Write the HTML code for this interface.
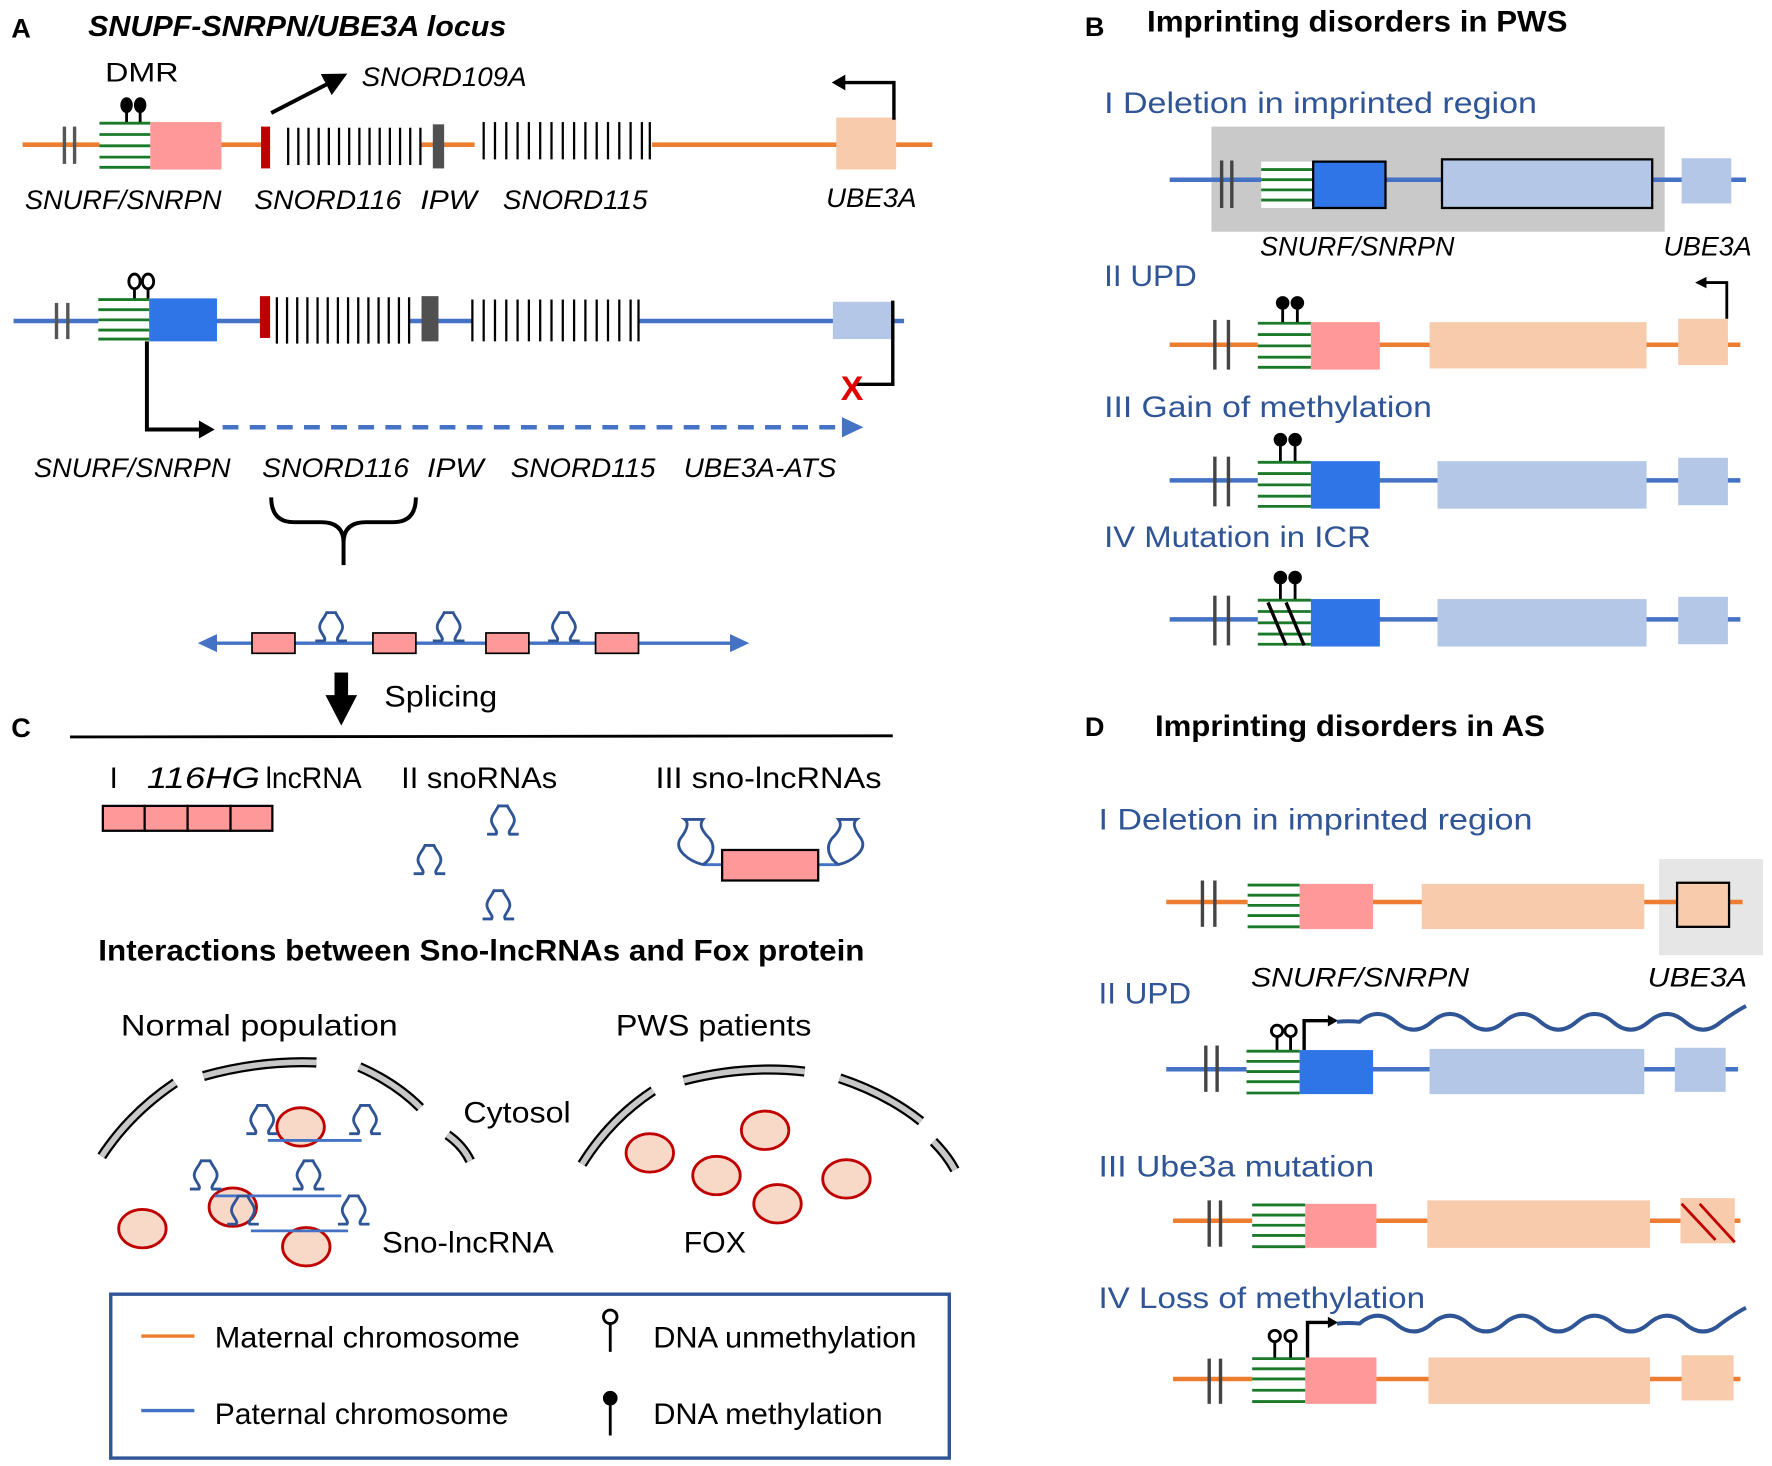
<!DOCTYPE html>
<html><head><meta charset="utf-8"><style>
html,body{margin:0;padding:0;background:#fff}
svg{display:block}
text{font-family:"Liberation Sans",sans-serif}
.it{font-style:italic}
.b{font-weight:bold}
.bl{fill:#2F5597}
</style></head><body>
<svg width="1772" height="1466" viewBox="0 0 1568 1297" preserveAspectRatio="none" xmlns="http://www.w3.org/2000/svg">
<defs>
<symbol id="hp" overflow="visible"><path d="M-14,0 L-6,0 C-4,-3 -9,-6 -10,-11 C-11,-16 -6,-20 -4,-25 L4,-25 C6,-20 11,-16 10,-11 C9,-6 4,-3 6,0 L14,0" fill="none" stroke="#2F5597" stroke-width="2.5"/></symbol>
<marker id="ah" markerWidth="6" markerHeight="6" refX="3" refY="3" orient="auto" markerUnits="strokeWidth"><path d="M0,0 L6,3 L0,6 z" fill="#000"/></marker>
</defs>

<!-- Panel A -->
<text x="10" y="33" font-size="24" class="b">A</text>
<text x="78" y="32" font-size="25" class="b it" textLength="370" lengthAdjust="spacingAndGlyphs">SNUPF-SNRPN/UBE3A locus</text>
<text x="93" y="72" font-size="24" textLength="65" lengthAdjust="spacingAndGlyphs">DMR</text>
<text x="320" y="76" font-size="24" class="it" textLength="146" lengthAdjust="spacingAndGlyphs">SNORD109A</text>
<line x1="240" y1="100" x2="298" y2="70" stroke="#000" stroke-width="3.5" marker-end="url(#ah)"/>
<!-- row1 -->
<line x1="20" y1="128" x2="232" y2="128" stroke="#ED7D31" stroke-width="4"/>
<line x1="372" y1="128" x2="420" y2="128" stroke="#ED7D31" stroke-width="4"/>
<line x1="577" y1="128" x2="825" y2="128" stroke="#ED7D31" stroke-width="4"/>
<line x1="57" y1="112" x2="57" y2="145" stroke="#555" stroke-width="3"/><line x1="66" y1="112" x2="66" y2="145" stroke="#555" stroke-width="3"/>
<rect x="88" y="108" width="45" height="40" fill="#fff"/>
<g stroke="#1a7a2a" stroke-width="2.5"><line x1="88" y1="109" x2="133" y2="109"/><line x1="88" y1="119" x2="133" y2="119"/><line x1="88" y1="129" x2="133" y2="129"/><line x1="88" y1="139" x2="133" y2="139"/><line x1="88" y1="148" x2="133" y2="148"/></g>
<rect x="133" y="108" width="63" height="42" fill="#FF9999"/>
<g stroke="#000" stroke-width="2.5"><line x1="112" y1="95" x2="112" y2="108"/><line x1="124" y1="95" x2="124" y2="108"/></g>
<ellipse cx="112" cy="93" rx="5.5" ry="7" fill="#000"/><ellipse cx="124" cy="93" rx="5.5" ry="7" fill="#000"/>
<rect x="231" y="112" width="8" height="37" fill="#C00000"/>
<g stroke="#000" stroke-width="2">
<line x1="255" y1="113" x2="255" y2="146"/><line x1="264" y1="113" x2="264" y2="146"/><line x1="273" y1="113" x2="273" y2="146"/><line x1="282" y1="113" x2="282" y2="146"/><line x1="291" y1="113" x2="291" y2="146"/><line x1="300" y1="113" x2="300" y2="146"/><line x1="309" y1="113" x2="309" y2="146"/><line x1="318" y1="113" x2="318" y2="146"/><line x1="327" y1="113" x2="327" y2="146"/><line x1="336" y1="113" x2="336" y2="146"/><line x1="345" y1="113" x2="345" y2="146"/><line x1="354" y1="113" x2="354" y2="146"/><line x1="363" y1="113" x2="363" y2="146"/><line x1="372" y1="113" x2="372" y2="146"/>
<line x1="428" y1="108" x2="428" y2="141"/><line x1="438" y1="108" x2="438" y2="141"/><line x1="448" y1="108" x2="448" y2="141"/><line x1="458" y1="108" x2="458" y2="141"/><line x1="468" y1="108" x2="468" y2="141"/><line x1="478" y1="108" x2="478" y2="141"/><line x1="488" y1="108" x2="488" y2="141"/><line x1="498" y1="108" x2="498" y2="141"/><line x1="508" y1="108" x2="508" y2="141"/><line x1="518" y1="108" x2="518" y2="141"/><line x1="528" y1="108" x2="528" y2="141"/><line x1="538" y1="108" x2="538" y2="141"/><line x1="548" y1="108" x2="548" y2="141"/><line x1="558" y1="108" x2="558" y2="141"/><line x1="568" y1="108" x2="568" y2="141"/><line x1="575" y1="108" x2="575" y2="141"/>
</g>
<rect x="383" y="110" width="10" height="39" fill="#505050"/>
<rect x="740" y="104" width="53" height="46" fill="#F8CBAD"/>
<polyline points="791,106 791,73 746,73" fill="none" stroke="#000" stroke-width="3"/>
<path d="M736,73 L748,66 L748,80 z" fill="#000"/>
<g font-size="24" class="it">
<text x="22" y="185" textLength="174" lengthAdjust="spacingAndGlyphs">SNURF/SNRPN</text>
<text x="225" y="185" textLength="130" lengthAdjust="spacingAndGlyphs">SNORD116</text>
<text x="372" y="185" textLength="50" lengthAdjust="spacingAndGlyphs">IPW</text>
<text x="445" y="185" textLength="128" lengthAdjust="spacingAndGlyphs">SNORD115</text>
<text x="731" y="183" textLength="80" lengthAdjust="spacingAndGlyphs">UBE3A</text>
</g>
<!-- row2 -->
<line x1="12" y1="284" x2="230" y2="284" stroke="#4472C4" stroke-width="4"/>
<line x1="362" y1="284" x2="418" y2="284" stroke="#4472C4" stroke-width="4"/>
<line x1="565" y1="284" x2="800" y2="284" stroke="#4472C4" stroke-width="4"/>
<line x1="50" y1="268" x2="50" y2="300" stroke="#555" stroke-width="3"/><line x1="60" y1="268" x2="60" y2="300" stroke="#555" stroke-width="3"/>
<rect x="87" y="264" width="45" height="36" fill="#fff"/>
<g stroke="#1a7a2a" stroke-width="2.5"><line x1="87" y1="265" x2="132" y2="265"/><line x1="87" y1="274" x2="132" y2="274"/><line x1="87" y1="283" x2="132" y2="283"/><line x1="87" y1="292" x2="132" y2="292"/><line x1="87" y1="300" x2="132" y2="300"/></g>
<rect x="132" y="264" width="60" height="38" fill="#2F75E8"/>
<g stroke="#000" stroke-width="2.5"><line x1="119" y1="255" x2="119" y2="264"/><line x1="131" y1="255" x2="131" y2="264"/></g>
<ellipse cx="119" cy="249" rx="5" ry="6.5" fill="#fff" stroke="#000" stroke-width="2.5"/><ellipse cx="131" cy="249" rx="5" ry="6.5" fill="#fff" stroke="#000" stroke-width="2.5"/>
<rect x="230" y="262" width="9" height="37" fill="#C00000"/>
<g stroke="#000" stroke-width="2">
<line x1="245" y1="263" x2="245" y2="304"/><line x1="254" y1="263" x2="254" y2="304"/><line x1="263" y1="263" x2="263" y2="304"/><line x1="272" y1="263" x2="272" y2="304"/><line x1="281" y1="263" x2="281" y2="304"/><line x1="290" y1="263" x2="290" y2="304"/><line x1="299" y1="263" x2="299" y2="304"/><line x1="308" y1="263" x2="308" y2="304"/><line x1="317" y1="263" x2="317" y2="304"/><line x1="326" y1="263" x2="326" y2="304"/><line x1="335" y1="263" x2="335" y2="304"/><line x1="344" y1="263" x2="344" y2="304"/><line x1="353" y1="263" x2="353" y2="304"/><line x1="362" y1="263" x2="362" y2="304"/>
<line x1="418" y1="265" x2="418" y2="302"/><line x1="428" y1="265" x2="428" y2="302"/><line x1="438" y1="265" x2="438" y2="302"/><line x1="448" y1="265" x2="448" y2="302"/><line x1="458" y1="265" x2="458" y2="302"/><line x1="468" y1="265" x2="468" y2="302"/><line x1="478" y1="265" x2="478" y2="302"/><line x1="488" y1="265" x2="488" y2="302"/><line x1="498" y1="265" x2="498" y2="302"/><line x1="508" y1="265" x2="508" y2="302"/><line x1="518" y1="265" x2="518" y2="302"/><line x1="528" y1="265" x2="528" y2="302"/><line x1="538" y1="265" x2="538" y2="302"/><line x1="548" y1="265" x2="548" y2="302"/><line x1="558" y1="265" x2="558" y2="302"/><line x1="565" y1="265" x2="565" y2="302"/>
</g>
<rect x="373" y="262" width="15" height="40" fill="#505050"/>
<rect x="737" y="267" width="52" height="33" fill="#B4C7E7"/>
<polyline points="790,266 790,340 757,340" fill="none" stroke="#000" stroke-width="3"/>
<text x="744" y="354" font-size="30" fill="#E00000" font-weight="bold">X</text>
<polyline points="130,302 130,380 178,380" fill="none" stroke="#000" stroke-width="3.5"/>
<path d="M190,380 L176,372 L176,388 z" fill="#000"/>
<line x1="197" y1="378" x2="742" y2="378" stroke="#4472C4" stroke-width="4" stroke-dasharray="14,10"/>
<path d="M764,378 L745,369 L745,387 z" fill="#4472C4"/>
<g font-size="24" class="it">
<text x="30" y="422" textLength="174" lengthAdjust="spacingAndGlyphs">SNURF/SNRPN</text>
<text x="232" y="422" textLength="130" lengthAdjust="spacingAndGlyphs">SNORD116</text>
<text x="378" y="422" textLength="50" lengthAdjust="spacingAndGlyphs">IPW</text>
<text x="452" y="422" textLength="128" lengthAdjust="spacingAndGlyphs">SNORD115</text>
<text x="605" y="422" textLength="135" lengthAdjust="spacingAndGlyphs">UBE3A-ATS</text>
</g>
<path d="M240,440 Q240,462 260,462 L284,462 Q304,462 304,480 L304,500 M368,440 Q368,462 348,462 L324,462 Q304,462 304,480" fill="none" stroke="#000" stroke-width="3.5"/>
<!-- splicing row -->
<line x1="188" y1="569" x2="650" y2="569" stroke="#4472C4" stroke-width="3"/>
<path d="M175,569 L192,561 L192,577 z M663,569 L646,561 L646,577 z" fill="#4472C4"/>
<g fill="#FF9999" stroke="#000" stroke-width="1.5"><rect x="223" y="560" width="38" height="18"/><rect x="330" y="560" width="38" height="18"/><rect x="430" y="560" width="38" height="18"/><rect x="527" y="560" width="38" height="18"/></g>
<use href="#hp" x="293" y="567"/><use href="#hp" x="397" y="567"/><use href="#hp" x="499" y="567"/>
<rect x="296" y="595" width="12" height="22" fill="#000"/><path d="M288,615 L316,615 L302,642 z" fill="#000"/>
<text x="340" y="625" font-size="26" textLength="100" lengthAdjust="spacingAndGlyphs">Splicing</text>

<!-- Panel C -->
<text x="10" y="652" font-size="24" class="b">C</text>
<line x1="62" y1="652" x2="790" y2="651" stroke="#000" stroke-width="2.5"/>
<g font-size="26">
<text x="97" y="697">I</text>
<text x="130" y="697" class="it" textLength="100" lengthAdjust="spacingAndGlyphs">116HG</text>
<text x="235" y="697" textLength="85" lengthAdjust="spacingAndGlyphs">lncRNA</text>
<text x="355" y="697" textLength="138" lengthAdjust="spacingAndGlyphs">II snoRNAs</text>
<text x="580" y="697" textLength="200" lengthAdjust="spacingAndGlyphs">III  sno-lncRNAs</text>
</g>
<g fill="#FF9999" stroke="#000" stroke-width="2"><rect x="91" y="713" width="37" height="22"/><rect x="128" y="713" width="38" height="22"/><rect x="166" y="713" width="38" height="22"/><rect x="204" y="713" width="37" height="22"/></g>
<use href="#hp" x="445" y="738"/><use href="#hp" x="380" y="773"/><use href="#hp" x="441" y="813"/>
<line x1="622" y1="765" x2="640" y2="765" stroke="#4472C4" stroke-width="2.5"/><line x1="724" y1="765" x2="742" y2="765" stroke="#4472C4" stroke-width="2.5"/>
<path d="M622,765 C610,762 596,752 602,742 C608,734 610,728 606,725 L622,725 C618,730 622,736 628,742 C634,750 630,760 622,765" fill="none" stroke="#2F5597" stroke-width="2.5"/>
<path d="M742,765 C754,762 768,752 762,742 C756,734 754,728 758,725 L742,725 C746,730 742,736 736,742 C730,750 734,760 742,765" fill="none" stroke="#2F5597" stroke-width="2.5"/>
<rect x="639" y="752" width="85" height="27" fill="#FF9999" stroke="#000" stroke-width="2"/>
<text x="87" y="850" font-size="26" class="b" textLength="678" lengthAdjust="spacingAndGlyphs">Interactions between Sno-lncRNAs and Fox protein</text>
<text x="107" y="916" font-size="26" textLength="245" lengthAdjust="spacingAndGlyphs">Normal population</text>
<text x="545" y="916" font-size="26" textLength="173" lengthAdjust="spacingAndGlyphs">PWS patients</text>
<!-- membranes -->
<g fill="none" stroke-linecap="butt">
<g stroke="#000" stroke-width="9"><path d="M90,1023 Q115,985 155,958"/><path d="M180,952 Q230,938 280,940"/><path d="M318,944 Q350,958 372,980"/><path d="M396,1004 Q410,1014 416,1027"/>
<path d="M515,1030 Q540,990 578,965"/><path d="M605,956 Q660,942 712,948"/><path d="M743,954 Q785,968 815,992"/><path d="M826,1010 Q838,1022 845,1035"/></g>
<g stroke="#C8C8C8" stroke-width="5"><path d="M90,1023 Q115,985 155,958"/><path d="M180,952 Q230,938 280,940"/><path d="M318,944 Q350,958 372,980"/><path d="M396,1004 Q410,1014 416,1027"/>
<path d="M515,1030 Q540,990 578,965"/><path d="M605,956 Q660,942 712,948"/><path d="M743,954 Q785,968 815,992"/><path d="M826,1010 Q838,1022 845,1035"/></g>
</g>
<text x="410" y="993" font-size="26" textLength="95" lengthAdjust="spacingAndGlyphs">Cytosol</text>
<text x="338" y="1108" font-size="26" textLength="152" lengthAdjust="spacingAndGlyphs">Sno-lncRNA</text>
<text x="605" y="1108" font-size="26" textLength="55" lengthAdjust="spacingAndGlyphs">FOX</text>
<g fill="#F8D9C8" stroke="#C00000" stroke-width="2.5">
<ellipse cx="266" cy="997" rx="21" ry="17"/><ellipse cx="126" cy="1087" rx="21" ry="17"/><ellipse cx="206" cy="1068" rx="21" ry="17"/><ellipse cx="271" cy="1103" rx="21" ry="17"/>
<ellipse cx="575" cy="1020" rx="21" ry="17"/><ellipse cx="677" cy="1000" rx="21" ry="17"/><ellipse cx="634" cy="1040" rx="21" ry="17"/><ellipse cx="688" cy="1065" rx="21" ry="17"/><ellipse cx="749" cy="1043" rx="21" ry="17"/>
</g>
<g stroke="#4472C4" stroke-width="2.5"><line x1="237" y1="1009" x2="320" y2="1009"/><line x1="190" y1="1058" x2="302" y2="1058"/><line x1="222" y1="1089" x2="308" y2="1089"/></g>
<use href="#hp" x="232" y="1003"/><use href="#hp" x="323" y="1003"/><use href="#hp" x="182" y="1052"/><use href="#hp" x="273" y="1052"/><use href="#hp" x="215" y="1083"/><use href="#hp" x="313" y="1083"/>
<!-- legend -->
<rect x="98" y="1145" width="742" height="145" fill="none" stroke="#2F5597" stroke-width="3"/>
<line x1="125" y1="1182" x2="172" y2="1182" stroke="#ED7D31" stroke-width="3"/>
<line x1="125" y1="1248" x2="172" y2="1248" stroke="#4472C4" stroke-width="3"/>
<g font-size="26">
<text x="190" y="1192" textLength="270" lengthAdjust="spacingAndGlyphs">Maternal chromosome</text>
<text x="190" y="1260" textLength="260" lengthAdjust="spacingAndGlyphs">Paternal chromosome</text>
<text x="578" y="1192" textLength="233" lengthAdjust="spacingAndGlyphs">DNA unmethylation</text>
<text x="578" y="1260" textLength="203" lengthAdjust="spacingAndGlyphs">DNA methylation</text>
</g>
<line x1="540" y1="1170" x2="540" y2="1196" stroke="#000" stroke-width="2.5"/><circle cx="540" cy="1165" r="6" fill="#fff" stroke="#000" stroke-width="2.5"/>
<line x1="540" y1="1238" x2="540" y2="1270" stroke="#000" stroke-width="2.5"/><circle cx="540" cy="1237" r="6.5" fill="#000"/>

<!-- Panel B -->
<text x="960" y="32" font-size="24" class="b">B</text>
<text x="1015" y="28" font-size="26" class="b" textLength="372" lengthAdjust="spacingAndGlyphs">Imprinting disorders in PWS</text>
<g font-size="26" class="bl">
<text x="977" y="100" textLength="383" lengthAdjust="spacingAndGlyphs">I Deletion in imprinted region</text>
<text x="977" y="253" textLength="82" lengthAdjust="spacingAndGlyphs">II UPD</text>
<text x="977" y="369" textLength="290" lengthAdjust="spacingAndGlyphs">III Gain of methylation</text>
<text x="977" y="484" textLength="236" lengthAdjust="spacingAndGlyphs">IV Mutation in ICR</text>
</g>
<rect x="1072" y="112" width="401" height="93" fill="#C9C9C9"/>
<line x1="1035" y1="159" x2="1545" y2="159" stroke="#4472C4" stroke-width="4"/>
<line x1="1081" y1="142" x2="1081" y2="184" stroke="#444" stroke-width="3"/><line x1="1090" y1="142" x2="1090" y2="184" stroke="#444" stroke-width="3"/>
<rect x="1116" y="143" width="46" height="41" fill="#fff"/>
<g stroke="#1a7a2a" stroke-width="2.5"><line x1="1116" y1="150" x2="1162" y2="150"/><line x1="1116" y1="159" x2="1162" y2="159"/><line x1="1116" y1="168" x2="1162" y2="168"/><line x1="1116" y1="177" x2="1162" y2="177"/></g>
<rect x="1162" y="143" width="64" height="41" fill="#2F75E8" stroke="#000" stroke-width="2"/>
<rect x="1276" y="141" width="186" height="43" fill="#B4C7E7" stroke="#000" stroke-width="2"/>
<rect x="1488" y="140" width="44" height="40" fill="#B4C7E7"/>
<text x="1115" y="226" font-size="24" class="it" textLength="172" lengthAdjust="spacingAndGlyphs">SNURF/SNRPN</text>
<text x="1472" y="226" font-size="24" class="it" textLength="78" lengthAdjust="spacingAndGlyphs">UBE3A</text>
<!-- B II -->
<line x1="1035" y1="305" x2="1540" y2="305" stroke="#ED7D31" stroke-width="4"/>
<line x1="1075" y1="283" x2="1075" y2="327" stroke="#444" stroke-width="3"/><line x1="1087" y1="283" x2="1087" y2="327" stroke="#444" stroke-width="3"/>
<rect x="1113" y="285" width="47" height="41" fill="#fff"/>
<g stroke="#1a7a2a" stroke-width="2.5"><line x1="1113" y1="286" x2="1160" y2="286"/><line x1="1113" y1="296" x2="1160" y2="296"/><line x1="1113" y1="306" x2="1160" y2="306"/><line x1="1113" y1="316" x2="1160" y2="316"/><line x1="1113" y1="325" x2="1160" y2="325"/></g>
<rect x="1160" y="285" width="61" height="42" fill="#FF9999"/>
<rect x="1265" y="285" width="192" height="41" fill="#F8CBAD"/>
<rect x="1485" y="282" width="44" height="41" fill="#F8CBAD"/>
<polyline points="1528,282 1528,250 1508,250" fill="none" stroke="#000" stroke-width="2.5"/><path d="M1500,250 L1510,245 L1510,255 z" fill="#000"/>
<g stroke="#000" stroke-width="2.5"><line x1="1135" y1="270" x2="1135" y2="285"/><line x1="1148" y1="270" x2="1148" y2="285"/></g>
<circle cx="1135" cy="268" r="6" fill="#000"/><circle cx="1148" cy="268" r="6" fill="#000"/>
<!-- B III -->
<line x1="1035" y1="425" x2="1540" y2="425" stroke="#4472C4" stroke-width="4"/>
<line x1="1075" y1="404" x2="1075" y2="448" stroke="#444" stroke-width="3"/><line x1="1087" y1="404" x2="1087" y2="448" stroke="#444" stroke-width="3"/>
<rect x="1113" y="408" width="47" height="41" fill="#fff"/>
<g stroke="#1a7a2a" stroke-width="2.5"><line x1="1113" y1="409" x2="1160" y2="409"/><line x1="1113" y1="419" x2="1160" y2="419"/><line x1="1113" y1="429" x2="1160" y2="429"/><line x1="1113" y1="439" x2="1160" y2="439"/><line x1="1113" y1="448" x2="1160" y2="448"/></g>
<rect x="1160" y="408" width="61" height="42" fill="#2F75E8"/>
<rect x="1272" y="408" width="185" height="42" fill="#B4C7E7"/>
<rect x="1485" y="405" width="44" height="42" fill="#B4C7E7"/>
<g stroke="#000" stroke-width="2.5"><line x1="1133" y1="392" x2="1133" y2="408"/><line x1="1146" y1="392" x2="1146" y2="408"/></g>
<circle cx="1133" cy="389" r="6" fill="#000"/><circle cx="1146" cy="389" r="6" fill="#000"/>
<!-- B IV -->
<line x1="1035" y1="548" x2="1540" y2="548" stroke="#4472C4" stroke-width="4"/>
<line x1="1075" y1="527" x2="1075" y2="571" stroke="#444" stroke-width="3"/><line x1="1087" y1="527" x2="1087" y2="571" stroke="#444" stroke-width="3"/>
<rect x="1113" y="530" width="47" height="42" fill="#fff"/>
<g stroke="#1a7a2a" stroke-width="2.5"><line x1="1113" y1="531" x2="1160" y2="531"/><line x1="1113" y1="541" x2="1160" y2="541"/><line x1="1113" y1="551" x2="1160" y2="551"/><line x1="1113" y1="561" x2="1160" y2="561"/><line x1="1113" y1="570" x2="1160" y2="570"/></g>
<g stroke="#000" stroke-width="3"><line x1="1122" y1="533" x2="1138" y2="571"/><line x1="1138" y1="533" x2="1154" y2="571"/></g>
<rect x="1160" y="530" width="61" height="42" fill="#2F75E8"/>
<rect x="1272" y="530" width="185" height="42" fill="#B4C7E7"/>
<rect x="1485" y="528" width="44" height="42" fill="#B4C7E7"/>
<g stroke="#000" stroke-width="2.5"><line x1="1133" y1="514" x2="1133" y2="530"/><line x1="1146" y1="514" x2="1146" y2="530"/></g>
<circle cx="1133" cy="511" r="6" fill="#000"/><circle cx="1146" cy="511" r="6" fill="#000"/>

<!-- Panel D -->
<text x="960" y="651" font-size="24" class="b">D</text>
<text x="1022" y="651" font-size="26" class="b" textLength="345" lengthAdjust="spacingAndGlyphs">Imprinting disorders in AS</text>
<g font-size="26" class="bl">
<text x="972" y="734" textLength="384" lengthAdjust="spacingAndGlyphs">I Deletion in imprinted region</text>
<text x="972" y="888" textLength="82" lengthAdjust="spacingAndGlyphs">II UPD</text>
<text x="972" y="1041" textLength="244" lengthAdjust="spacingAndGlyphs">III Ube3a mutation</text>
<text x="972" y="1157" textLength="289" lengthAdjust="spacingAndGlyphs">IV Loss of methylation</text>
</g>
<!-- D I -->
<rect x="1468" y="760" width="92" height="85" fill="#E6E6E6"/>
<line x1="1032" y1="798" x2="1542" y2="798" stroke="#ED7D31" stroke-width="4"/>
<line x1="1064" y1="779" x2="1064" y2="820" stroke="#444" stroke-width="3"/><line x1="1075" y1="779" x2="1075" y2="820" stroke="#444" stroke-width="3"/>
<rect x="1104" y="782" width="46" height="40" fill="#fff"/>
<g stroke="#1a7a2a" stroke-width="2.5"><line x1="1104" y1="783" x2="1150" y2="783"/><line x1="1104" y1="792" x2="1150" y2="792"/><line x1="1104" y1="801" x2="1150" y2="801"/><line x1="1104" y1="810" x2="1150" y2="810"/><line x1="1104" y1="820" x2="1150" y2="820"/></g>
<rect x="1150" y="782" width="65" height="40" fill="#FF9999"/>
<rect x="1258" y="782" width="197" height="40" fill="#F8CBAD"/>
<rect x="1484" y="781" width="46" height="39" fill="#F8CBAD" stroke="#000" stroke-width="2"/>
<text x="1107" y="873" font-size="24" class="it" textLength="193" lengthAdjust="spacingAndGlyphs">SNURF/SNRPN</text>
<text x="1458" y="873" font-size="24" class="it" textLength="88" lengthAdjust="spacingAndGlyphs">UBE3A</text>
<!-- D II -->
<line x1="1032" y1="946" x2="1538" y2="946" stroke="#4472C4" stroke-width="4"/>
<line x1="1067" y1="925" x2="1067" y2="966" stroke="#444" stroke-width="3"/><line x1="1077" y1="925" x2="1077" y2="966" stroke="#444" stroke-width="3"/>
<rect x="1103" y="929" width="47" height="39" fill="#fff"/>
<g stroke="#1a7a2a" stroke-width="2.5"><line x1="1103" y1="930" x2="1150" y2="930"/><line x1="1103" y1="939" x2="1150" y2="939"/><line x1="1103" y1="948" x2="1150" y2="948"/><line x1="1103" y1="957" x2="1150" y2="957"/><line x1="1103" y1="967" x2="1150" y2="967"/></g>
<rect x="1150" y="929" width="65" height="39" fill="#2F75E8"/>
<rect x="1265" y="928" width="190" height="40" fill="#B4C7E7"/>
<rect x="1482" y="927" width="45" height="39" fill="#B4C7E7"/>
<g stroke="#000" stroke-width="2.5"><line x1="1130" y1="917" x2="1130" y2="929"/><line x1="1142" y1="917" x2="1142" y2="929"/></g>
<circle cx="1130" cy="912" r="5" fill="#fff" stroke="#000" stroke-width="2.5"/><circle cx="1142" cy="912" r="5" fill="#fff" stroke="#000" stroke-width="2.5"/>
<polyline points="1154,929 1154,903 1176,903" fill="none" stroke="#000" stroke-width="3"/><path d="M1184,903 L1175,898 L1175,908 z" fill="#000"/>
<path d="M1183,904 q10,-1 20,0 q16,-14 32,0 q16,14 32,0 q16,-14 32,0 q16,14 32,0 q16,-14 32,0 q16,14 32,0 q16,-14 32,0 q16,14 32,0 q16,-14 32,0 q16,14 32,0 q14,-10 22,-14" fill="none" stroke="#2F5597" stroke-width="3.5"/>
<!-- D III -->
<line x1="1038" y1="1080" x2="1540" y2="1080" stroke="#ED7D31" stroke-width="4"/>
<line x1="1070" y1="1062" x2="1070" y2="1103" stroke="#444" stroke-width="3"/><line x1="1080" y1="1062" x2="1080" y2="1103" stroke="#444" stroke-width="3"/>
<rect x="1108" y="1065" width="47" height="39" fill="#fff"/>
<g stroke="#1a7a2a" stroke-width="2.5"><line x1="1108" y1="1066" x2="1155" y2="1066"/><line x1="1108" y1="1075" x2="1155" y2="1075"/><line x1="1108" y1="1084" x2="1155" y2="1084"/><line x1="1108" y1="1093" x2="1155" y2="1093"/><line x1="1108" y1="1103" x2="1155" y2="1103"/></g>
<rect x="1155" y="1065" width="63" height="39" fill="#FF9999"/>
<rect x="1263" y="1062" width="197" height="42" fill="#F8CBAD"/>
<rect x="1487" y="1060" width="48" height="40" fill="#F8CBAD"/>
<g stroke="#C00000" stroke-width="2.5"><line x1="1488" y1="1065" x2="1518" y2="1097"/><line x1="1504" y1="1065" x2="1535" y2="1099"/></g>
<!-- D IV -->
<line x1="1038" y1="1220" x2="1540" y2="1220" stroke="#ED7D31" stroke-width="4"/>
<line x1="1070" y1="1202" x2="1070" y2="1242" stroke="#444" stroke-width="3"/><line x1="1080" y1="1202" x2="1080" y2="1242" stroke="#444" stroke-width="3"/>
<rect x="1108" y="1201" width="47" height="40" fill="#fff"/>
<g stroke="#1a7a2a" stroke-width="2.5"><line x1="1108" y1="1202" x2="1155" y2="1202"/><line x1="1108" y1="1211" x2="1155" y2="1211"/><line x1="1108" y1="1220" x2="1155" y2="1220"/><line x1="1108" y1="1230" x2="1155" y2="1230"/><line x1="1108" y1="1240" x2="1155" y2="1240"/></g>
<rect x="1155" y="1201" width="63" height="41" fill="#FF9999"/>
<rect x="1264" y="1201" width="196" height="41" fill="#F8CBAD"/>
<rect x="1488" y="1199" width="46" height="40" fill="#F8CBAD"/>
<g stroke="#000" stroke-width="2.5"><line x1="1128" y1="1187" x2="1128" y2="1201"/><line x1="1142" y1="1187" x2="1142" y2="1201"/></g>
<circle cx="1128" cy="1182" r="5" fill="#fff" stroke="#000" stroke-width="2.5"/><circle cx="1142" cy="1182" r="5" fill="#fff" stroke="#000" stroke-width="2.5"/>
<polyline points="1157,1201 1157,1170 1176,1170" fill="none" stroke="#000" stroke-width="3"/><path d="M1184,1170 L1175,1165 L1175,1175 z" fill="#000"/>
<path d="M1183,1171 q10,-1 20,0 q16,-14 32,0 q16,14 32,0 q16,-14 32,0 q16,14 32,0 q16,-14 32,0 q16,14 32,0 q16,-14 32,0 q16,14 32,0 q16,-14 32,0 q16,14 32,0 q14,-10 22,-14" fill="none" stroke="#2F5597" stroke-width="3.5"/>
</svg>
</body></html>
